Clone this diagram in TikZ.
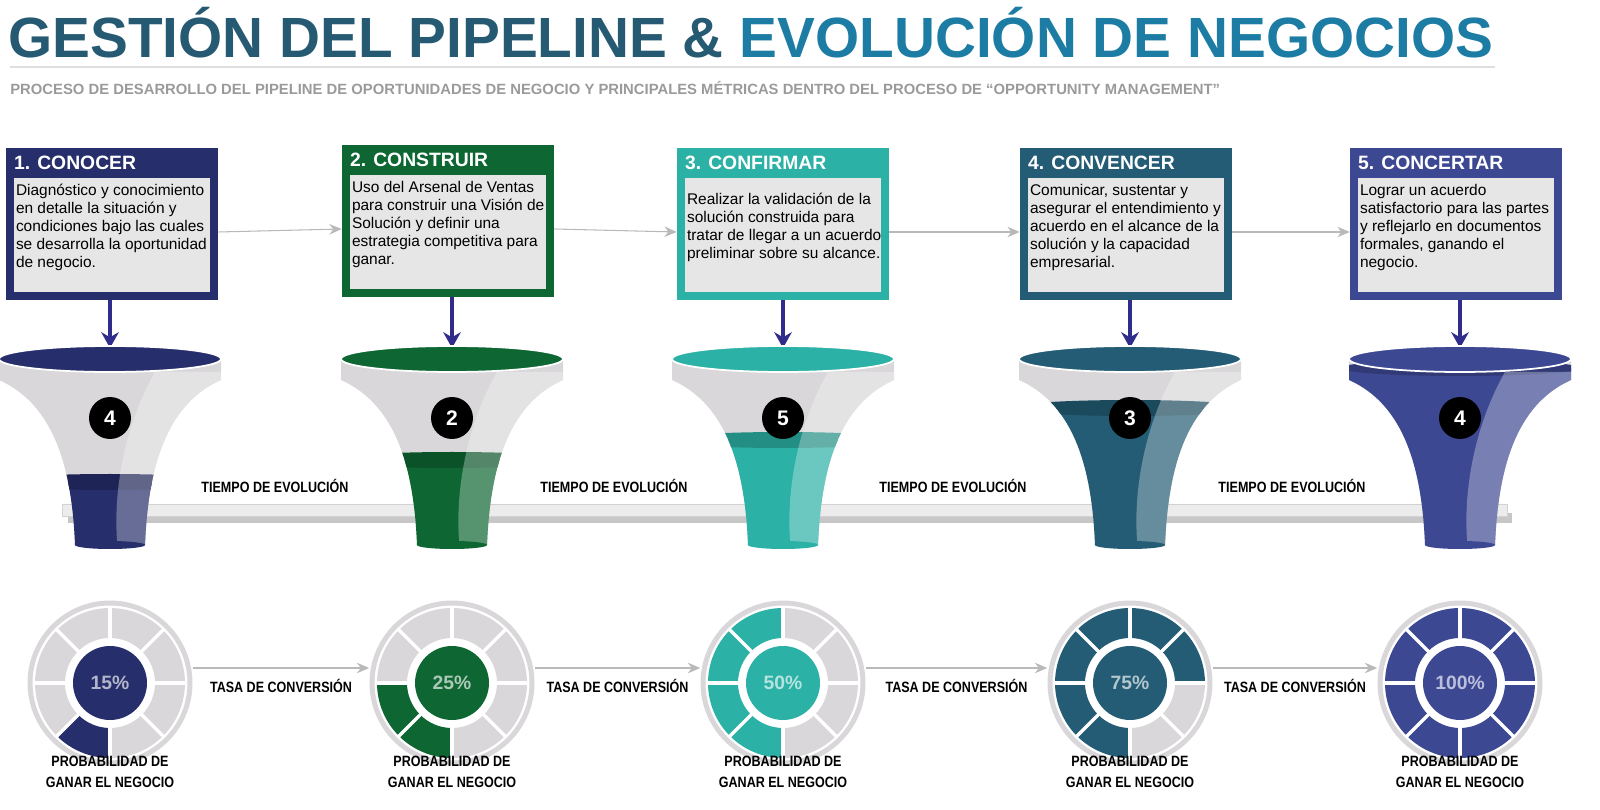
\documentclass[tikz,border=0pt]{standalone}
\usepackage{fontspec}
\setmainfont{Liberation Sans}
\usepackage{graphicx}
\usepackage{tikz}
\usetikzlibrary{arrows.meta, calc}
\definecolor{cone}{HTML}{262F6B}
\definecolor{ctwo}{HTML}{0E6633}
\definecolor{cthree}{HTML}{2BB1A5}
\definecolor{cfour}{HTML}{235C74}
\definecolor{cfive}{HTML}{3D4893}
\definecolor{downarrow}{HTML}{302C8C}
\definecolor{titledark}{HTML}{265A73}
\definecolor{titleblue}{HTML}{1C7CA3}
\definecolor{subgray}{HTML}{9A9A9A}
\definecolor{boxgray}{HTML}{E6E6E6}
\definecolor{funnelgray}{HTML}{D9D7D9}
\newcommand\narrowtxt[1]{\scalebox{0.84}[1]{#1}}
\tikzset{
  stagebox/.style={rectangle, minimum width=4.24cm, minimum height=3.04cm, inner sep=0pt},
  stagehead/.style={anchor=west, text=white, font=\bfseries\fontsize{11}{13}\selectfont, inner sep=0pt},
  stagetext/.style={anchor=north west, inner sep=0pt, align=left, font=\fontsize{8.8}{10.3}\selectfont},
  flow/.style={draw=gray!55, line width=0.6pt, -{Stealth[length=7pt,width=6pt]}},
  down/.style={draw=downarrow, line width=2.2pt, -{Stealth[length=9pt,width=10pt]}},
  smalllabel/.style={font=\bfseries\fontsize{8.5}{10}\selectfont, align=center, inner sep=0pt},
  numdot/.style={circle, fill=black, text=white, minimum size=0.84cm, inner sep=0pt, font=\bfseries\fontsize{12}{14}\selectfont},
  ring/.style={circle, minimum size=3.3cm, inner sep=0pt}
}
\begin{document}
\begin{tikzpicture}[x=0.02cm, y=-0.02cm]
  \useasboundingbox (0,0) rectangle (1600,810);
  % title
  \node (title) [anchor=west, inner sep=0pt] at (8,33) {\resizebox{29.7cm}{!}{\bfseries{\color{titledark}GESTIÓN DEL PIPELINE \&} {\color{titleblue}EVOLUCIÓN DE NEGOCIOS}}};
  \draw [gray!25, line width=0.8pt] (10,67) -- (1495,67);
  \node (subtitle) [anchor=west, inner sep=0pt, text=subgray] at (10,88) {\resizebox{24.2cm}{!}{\bfseries PROCESO DE DESARROLLO DEL PIPELINE DE OPORTUNIDADES DE NEGOCIO Y PRINCIPALES MÉTRICAS DENTRO DEL PROCESO DE “OPPORTUNITY MANAGEMENT”}};

  % boxes
  \node (box1) [stagebox, fill=cone] at (112,224) {};
  \node (box2) [stagebox, fill=ctwo] at (448,221) {};
  \node (box3) [stagebox, fill=cthree] at (783,224) {};
  \node (box4) [stagebox, fill=cfour] at (1126,224) {};
  \node (box5) [stagebox, fill=cfive] at (1456,224) {};
  \foreach \i in {1,...,5}
    \fill [boxgray] ([xshift=0.16cm, yshift=-0.6cm]box\i.north west) rectangle ([xshift=-0.16cm, yshift=0.16cm]box\i.south east);
  \node (head1) [stagehead] at ([xshift=0.16cm, yshift=-0.3cm]box1.north west) {1. CONOCER};
  \node (head2) [stagehead] at ([xshift=0.16cm, yshift=-0.3cm]box2.north west) {2. CONSTRUIR};
  \node (head3) [stagehead] at ([xshift=0.16cm, yshift=-0.3cm]box3.north west) {3. CONFIRMAR};
  \node (head4) [stagehead] at ([xshift=0.16cm, yshift=-0.3cm]box4.north west) {4. CONVENCER};
  \node (head5) [stagehead] at ([xshift=0.16cm, yshift=-0.3cm]box5.north west) {5. CONCERTAR};
  \node (text1) [stagetext] at ([xshift=0.2cm, yshift=-0.72cm]box1.north west) {Diagnóstico y conocimiento\\en detalle la situación y\\condiciones bajo las cuales\\se desarrolla la oportunidad\\de negocio.};
  \node (text2) [stagetext] at ([xshift=0.2cm, yshift=-0.72cm]box2.north west) {Uso del Arsenal de Ventas\\para construir una Visión de\\Solución y definir una\\estrategia competitiva para\\ganar.};
  \node (text3) [stagetext] at ([xshift=0.2cm, yshift=-0.9cm]box3.north west) {Realizar la validación de la\\solución construida para\\tratar de llegar a un acuerdo\\preliminar sobre su alcance.};
  \node (text4) [stagetext] at ([xshift=0.2cm, yshift=-0.72cm]box4.north west) {Comunicar, sustentar y\\asegurar el entendimiento y\\acuerdo en el alcance de la\\solución y la capacidad\\empresarial.};
  \node (text5) [stagetext] at ([xshift=0.2cm, yshift=-0.72cm]box5.north west) {Lograr un acuerdo\\satisfactorio para las partes\\y reflejarlo en documentos\\formales, ganando el\\negocio.};
  \foreach \i/\j in {1/2,2/3,3/4,4/5}
    \draw [flow] ([yshift=-0.16cm]box\i.east) -- ([yshift=-0.16cm]box\j.west);

  % shelf
  \fill [black!22] (68,513) rectangle (1512,523);
  \fill [gray!15] (62,504) rectangle (1507,516);
  \draw [gray!35] (62,504) rectangle (1507,516);
  \foreach \x in {275,614,953,1292}
    \node [smalllabel] at (\x,486) {\narrowtxt{TIEMPO DE EVOLUCIÓN}};

  % funnels and rings
  \foreach \i/\x/\c/\lvl/\num/\pct/\seg in {1/110/cone/482/4/15/1, 2/452/ctwo/460/2/25/2, 3/783/cthree/440/5/50/4, 4/1130/cfour/408/3/75/6, 5/1460/cfive/368/4/100/8} {
    \coordinate (rim\i) at (\x,348);
    \draw [down] (box\i.south -| rim\i) -- (rim\i);
    \fill [funnelgray] (\x-111,360) -- (\x-111,380) .. controls (\x-55,405) and (\x-38,470) .. (\x-35,545) -- (\x+35,545) .. controls (\x+38,470) and (\x+55,405) .. (\x+111,380) -- (\x+111,360) -- cycle;
    \begin{scope}
      \clip (\x-111,360) -- (\x-111,380) .. controls (\x-55,405) and (\x-38,470) .. (\x-35,545) -- (\x+35,545) .. controls (\x+38,470) and (\x+55,405) .. (\x+111,380) -- (\x+111,360) -- cycle;
      \fill [\c] (\x-120,\lvl) rectangle (\x+120,550);
      \fill [\c!80!black] (\x,\lvl) ellipse [x radius=2.4cm, y radius=0.16cm];
      \fill [white, opacity=0.3] (\x+45,372) .. controls (\x+12,430) and (\x+2,500) .. (\x+8,550) -- (\x+60,550) -- (\x+120,372) -- cycle;
    \end{scope}
    \fill [\c] (\x,545) ellipse [x radius=0.7cm, y radius=0.08cm];
    \fill [\c] (\x,359) ellipse [x radius=2.22cm, y radius=0.26cm];
    \draw [white, line width=1pt] (\x,359) ellipse [x radius=2.22cm, y radius=0.26cm];
    \node (num\i) [numdot] at (\x,418) {\num};
    % ring
    \node (ring\i) [ring] at (\x,683) {};
    \draw [funnelgray, line width=0.1cm] (ring\i.center) circle [radius=1.6cm];
    \foreach \k in {0,...,7} {
      \pgfmathtruncatemacro\ang{225-45*\k}
      \pgfmathsetmacro\segcol{\k<\seg ? 1 : 0}
      \ifdim\segcol pt>0.5pt \def\fillc{\c}\else\def\fillc{funnelgray}\fi
      \fill [\fillc] ([shift={(ring\i.center)}]\ang:1.5cm) arc [start angle=\ang, end angle=\ang+45, radius=1.5cm] -- ([shift={(ring\i.center)}]\ang+45:0.9cm) arc [start angle=\ang+45, end angle=\ang, radius=0.9cm] -- cycle;
    }
    \foreach \a in {0,45,...,315}
      \draw [white, line width=0.07cm] ([shift={(ring\i.center)}]\a:0.84cm) -- ([shift={(ring\i.center)}]\a:1.54cm);
    \node (pct\i) [circle, fill=\c, minimum size=1.48cm, inner sep=0pt, text=\c!35!white, font=\bfseries\fontsize{11}{13}\selectfont] at (ring\i.center) {\pct\%};
    \node (prob\i) [smalllabel] at (\x,772) {\narrowtxt{PROBABILIDAD DE}\\[2pt]\narrowtxt{GANAR EL NEGOCIO}};
  }
  \foreach \i/\j in {1/2,2/3,3/4,4/5} {
    \draw [flow] ([yshift=0.3cm]ring\i.east) -- ([yshift=0.3cm]ring\j.west);
    \node [smalllabel] at ($(ring\i.east)!0.5!(ring\j.west)+(0,-0.06cm)$) {\narrowtxt{TASA DE CONVERSIÓN}};
  }
\end{tikzpicture}
\end{document}
